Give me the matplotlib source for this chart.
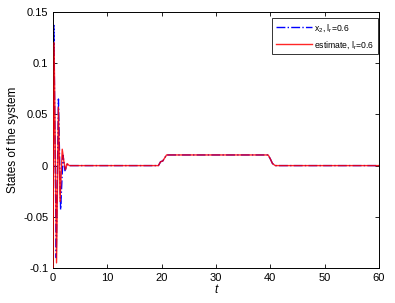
import matplotlib
matplotlib.use("Agg")
import matplotlib.pyplot as plt
from matplotlib.ticker import FuncFormatter

plt.rcParams['font.family'] = ['Liberation Sans', 'DejaVu Sans']
plt.rcParams['mathtext.default'] = 'regular'

# state x2 (blue dash-dot)
t_x2 = [0.0, 0.15, 0.6, 1.0, 1.4, 1.85, 2.2, 2.6, 3.0, 19.4, 19.8, 20.2, 20.9, 39.6, 40.0, 40.4, 40.9, 60.0]
v_x2 = [0.0, 0.137, -0.09, 0.065, -0.043, 0.010, -0.005, 0.001, 0.0, 0.0, 0.0038, 0.0045, 0.0104, 0.0104, 0.0065, 0.002, 0.0, 0.0]
# estimate (red solid)
t_est = [0.0, 0.2, 0.65, 1.0, 1.3, 1.7, 2.0, 2.3, 2.6, 3.0, 19.4, 19.8, 20.2, 20.9, 39.6, 40.0, 40.4, 40.9, 60.0]
v_est = [-0.1, 0.12, -0.095, 0.057, -0.035, 0.016, 0.004, -0.004, 0.002, 0.0, 0.0, 0.0038, 0.0045, 0.0104, 0.0104, 0.0065, 0.002, 0.0, 0.0]

xticks = [0, 10, 20, 30, 40, 50, 60]
yticks = [-0.1, -0.05, 0, 0.05, 0.1, 0.15]

fig = plt.figure(figsize=(3.95, 3.03), dpi=100)
ax = fig.add_axes([53/395, 1-268/303, 326/395, 256/303])

ax.plot(t_x2, v_x2, color='#0000ff', lw=1.0, ls='-.', label='x$_2$, l$_r$=0.6', zorder=2)
ax.plot(t_est, v_est, color='#ff0000', lw=1.0, label='estimate, l$_r$=0.6', zorder=3, alpha=0.85)

ax.set_xlim(0, 60)
ax.set_ylim(-0.1, 0.15)
ax.set_xticks(xticks)
ax.set_yticks(yticks)
ax.yaxis.set_major_formatter(FuncFormatter(lambda v, p: ('%g' % v)))
ax.tick_params(direction='in', top=True, right=True, labelsize=8, length=3, width=0.6)
for s in ax.spines.values():
    s.set_linewidth(0.7)

ax.set_xlabel('t', fontsize=8.5, style='italic', labelpad=1)
ax.set_ylabel('States of the system', fontsize=8.5, labelpad=3)

leg = ax.legend(loc='upper right', bbox_to_anchor=(0.997, 0.975),
                fontsize=6.2, frameon=True, fancybox=False, edgecolor='black',
                handlelength=4.2, borderpad=0.4, labelspacing=0.6, handletextpad=0.3, borderaxespad=0)
leg.get_frame().set_linewidth(0.7)

fig.savefig('out.png', dpi=100)
